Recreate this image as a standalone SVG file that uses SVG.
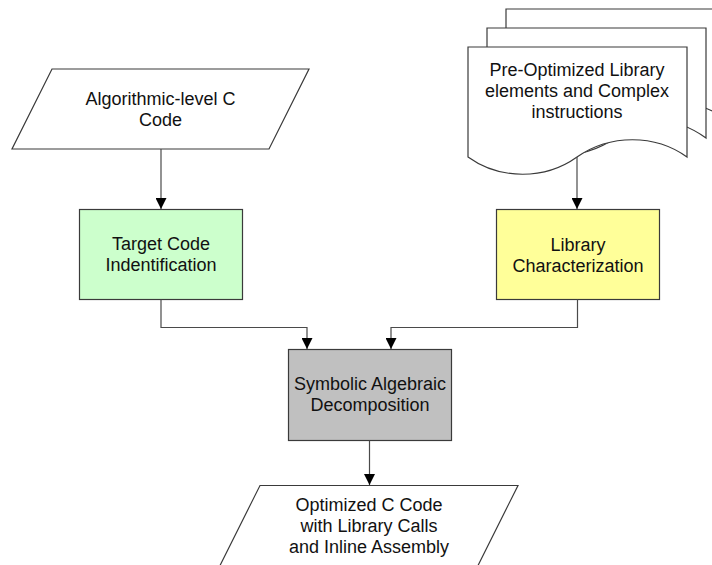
<svg xmlns="http://www.w3.org/2000/svg" width="712" height="565" viewBox="0 0 712 565">
  <defs>
    <marker id="arrow" markerUnits="userSpaceOnUse" markerWidth="11" markerHeight="11" refX="11" refY="5.5" orient="auto">
      <path d="M0,0 L11,5.5 L0,11 z" fill="#000"/>
    </marker>
    <style>
      .shape { stroke: #3a3a3a; stroke-width: 1.2; }
      .io { fill: #ffffff; }
      .doc { fill: #ffffff; }
      .green { fill: #ccffcc; }
      .yellow { fill: #ffff99; }
      .grey { fill: #c0c0c0; }
      .label { font-family: "Liberation Sans", Arial, sans-serif; font-size: 18px; fill: #111; text-anchor: middle; }
      .conn { fill: none; stroke: #4a4a4a; stroke-width: 1.2; marker-end: url(#arrow); }
    </style>
  </defs>
  <rect width="712" height="565" fill="#ffffff"/>

  <!-- input: algorithmic C code -->
  <g id="algo-c-code">
    <polygon class="shape io" points="52,69 309,69 269,149 12,149"/>
    <text class="label" x="160.5" y="105">Algorithmic-level C</text>
    <text class="label" x="160.5" y="126">Code</text>
  </g>

  <!-- multi-document: library elements -->
  <g id="library-docs">
    <path class="shape doc" d="M506,9 H725 V119 C693,96 658,96 634,119 C602,142 557,142 506,119 Z"/>
    <path class="shape doc" d="M487,28 H706 V138 C674,115 639,115 615,138 C583,161 538,161 487,138 Z"/>
    <path class="shape doc" d="M468,47 H687 V157 C655,134 610,134 577,157 C545,180 500,180 468,157 Z"/>
    <text class="label" x="577" y="76">Pre-Optimized Library</text>
    <text class="label" x="577" y="97">elements and Complex</text>
    <text class="label" x="577" y="118">instructions</text>
  </g>

  <g id="target-code">
    <rect class="shape green" x="79.5" y="209.5" width="163" height="90"/>
    <text class="label" x="161" y="250">Target Code</text>
    <text class="label" x="161" y="271">Indentification</text>
  </g>

  <g id="library-char">
    <rect class="shape yellow" x="496.5" y="209.5" width="163" height="90"/>
    <text class="label" x="578" y="251">Library</text>
    <text class="label" x="578" y="272">Characterization</text>
  </g>

  <g id="symbolic-decomp">
    <rect class="shape grey" x="288.5" y="349.5" width="163" height="91"/>
    <text class="label" x="370" y="390">Symbolic Algebraic</text>
    <text class="label" x="370" y="411">Decomposition</text>
  </g>

  <!-- output: optimized C code -->
  <g id="optimized-c-code">
    <polygon class="shape io" points="260,485.5 518,485.5 478,565.5 220,565.5"/>
    <text class="label" x="369" y="511">Optimized C Code</text>
    <text class="label" x="369" y="532">with Library Calls</text>
    <text class="label" x="369" y="553">and Inline Assembly</text>
  </g>

  <g id="connectors">
    <path class="conn" d="M161,149 V209"/>
    <path class="conn" d="M577,157 V209"/>
    <path class="conn" d="M161,299.5 V327.5 H307 V349"/>
    <path class="conn" d="M577.5,299.5 V327.5 H391 V349"/>
    <path class="conn" d="M369.5,440.5 V485"/>
  </g>
</svg>
